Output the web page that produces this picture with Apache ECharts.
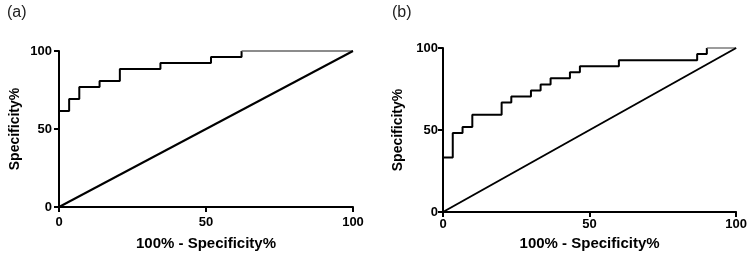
<!DOCTYPE html>
<html>
<head>
<meta charset="utf-8">
<script src="https://cdn.jsdelivr.net/npm/echarts@6/dist/echarts.min.js"></script>
<style>
  html, body { margin: 0; padding: 0; background: #fff; }
  #chart { width: 750px; height: 256px; }
</style>
</head>
<body>
<div id="chart"></div>
<script>
// ROC points (100% - specificity, sensitivity); last point closes the curve at 100/100
const fprA = [0, 0, 3.45, 6.9, 13.8, 20.7, 34.5, 51.7, 62.1, 100];
const tprA = [0, 61.5, 69.2, 76.9, 80.8, 88.5, 92.3, 96.2, 100, 100];

const fprB = [0, 0, 3.33, 6.67, 10, 20, 23.3, 30, 33.3, 36.7, 43.3, 46.7, 60, 86.7, 90, 100];
const tprB = [0, 33.3, 48.1, 51.9, 59.3, 66.7, 70.4, 74.1, 77.8, 81.5, 85.2, 88.9, 92.6, 96.3, 100, 100];

// chance line
const diagX = [0, 100];
const diagY = [0, 100];

const panelLabels = ['(a)', '(b)'];
const xTitle = '100% - Specificity%';
const yTitle = 'Specificity%';

const FONT = '"Liberation Sans", Arial, sans-serif';

const zip = (xs, ys) => xs.map((x, i) => [x, ys[i]]);

const chart = echarts.init(document.getElementById('chart'));

const makeX = (gridIndex, labelMargin, nameGap) => ({
  gridIndex,
  type: 'value',
  min: 0,
  max: 100,
  interval: 50,
  name: xTitle,
  nameLocation: 'middle',
  nameGap,
  nameTextStyle: { color: '#000', fontWeight: 'bold', fontSize: 15, fontFamily: FONT },
  axisLine: { lineStyle: { color: '#000', width: 2 } },
  axisTick: { show: true, length: 5, lineStyle: { color: '#000', width: 2 } },
  axisLabel: { color: '#000', fontWeight: 'bold', fontSize: 13, fontFamily: FONT, margin: labelMargin },
  splitLine: { show: false }
});

const makeY = (gridIndex, labelMargin, nameGap) => ({
  gridIndex,
  type: 'value',
  min: 0,
  max: 100,
  interval: 50,
  name: yTitle,
  nameLocation: 'middle',
  nameGap,
  nameTextStyle: { color: '#000', fontWeight: 'bold', fontSize: 14, fontFamily: FONT },
  axisLine: { show: true, lineStyle: { color: '#000', width: 2 } },
  axisTick: { show: true, length: 5, lineStyle: { color: '#000', width: 2 } },
  axisLabel: { color: '#000', fontWeight: 'bold', fontSize: 13, fontFamily: FONT, margin: labelMargin },
  splitLine: { show: false }
});

const rocSeries = (idx, xs, ys) => {
  const pts = zip(xs, ys);
  return [
    {
      type: 'line',
      xAxisIndex: idx,
      yAxisIndex: idx,
      step: 'end',
      symbol: 'none',
      clip: false,
      lineStyle: { color: '#000', width: 2 },
      data: pts.slice(0, -1)
    },
    {
      // flat tail at the top, drawn lighter like the source
      type: 'line',
      xAxisIndex: idx,
      yAxisIndex: idx,
      symbol: 'none',
      clip: false,
      lineStyle: { color: '#666', width: 1.3 },
      data: pts.slice(-2)
    },
    {
      type: 'line',
      xAxisIndex: idx,
      yAxisIndex: idx,
      symbol: 'none',
      clip: false,
      lineStyle: { color: '#000', width: 2 },
      data: zip(diagX, diagY)
    }
  ];
};

chart.setOption({
  animation: false,
  title: [
    { text: panelLabels[0], left: 2, top: 0, textStyle: { fontSize: 16, fontWeight: 'normal', color: '#222', fontFamily: FONT } },
    { text: panelLabels[1], left: 387, top: 0, textStyle: { fontSize: 16, fontWeight: 'normal', color: '#222', fontFamily: FONT } }
  ],
  grid: [
    { left: 59, right: 397, top: 51, bottom: 42 },
    { left: 443, right: 13, top: 48, bottom: 44 }
  ],
  xAxis: [makeX(0, 9, 29), makeX(1, 6, 21)],
  yAxis: [makeY(0, 7, 37), makeY(1, 5, 38)],
  series: [...rocSeries(0, fprA, tprA), ...rocSeries(1, fprB, tprB)]
});
</script>
</body>
</html>
